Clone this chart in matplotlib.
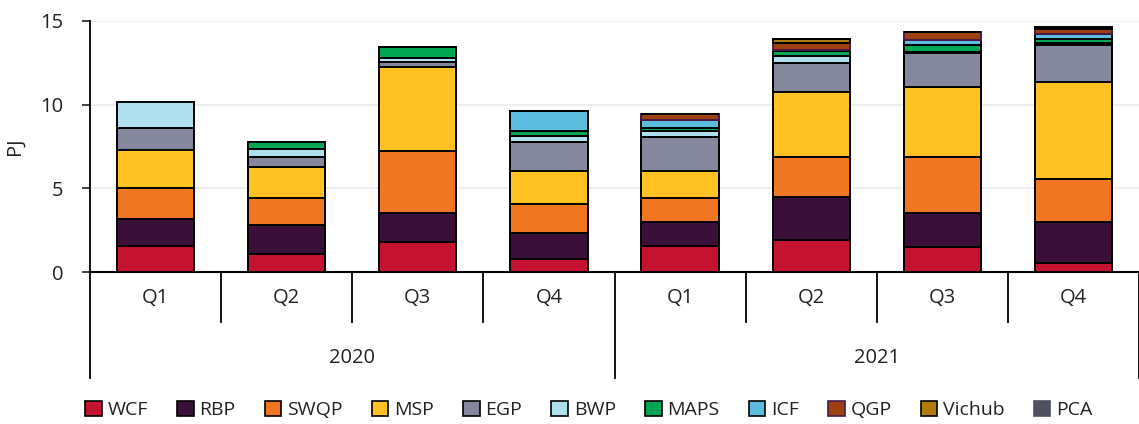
import matplotlib
matplotlib.use("Agg")
import matplotlib.pyplot as plt
from matplotlib.patches import Patch
import matplotlib.transforms as mtransforms

plt.rcParams['font.family'] = ['Open Sans', 'DejaVu Sans']

quarters = ["Q1", "Q2", "Q3", "Q4", "Q1", "Q2", "Q3", "Q4"]
years = ["2020", "2021"]

WCF    = [1.53, 1.06, 1.81, 0.76, 1.55, 1.91, 1.51, 0.54]
RBP    = [1.64, 1.73, 1.70, 1.57, 1.46, 2.59, 2.04, 2.47]
SWQP   = [1.85, 1.65, 3.72, 1.73, 1.40, 2.40, 3.31, 2.57]
MSP    = [2.27, 1.84, 5.04, 1.98, 1.65, 3.84, 4.22, 5.80]
EGP    = [1.30, 0.61, 0.25, 1.73, 2.03, 1.77, 2.01, 2.17]
BWP    = [1.57, 0.44, 0.29, 0.35, 0.35, 0.42, 0.05, 0.15]
MAPS   = [0.00, 0.42, 0.66, 0.33, 0.15, 0.28, 0.42, 0.23]
ICF    = [0.00, 0.00, 0.00, 1.17, 0.50, 0.05, 0.32, 0.28]
QGP    = [0.00, 0.00, 0.00, 0.03, 0.35, 0.40, 0.44, 0.30]
Vichub = [0.00, 0.00, 0.00, 0.00, 0.00, 0.26, 0.00, 0.00]
PCA    = [0.00, 0.00, 0.00, 0.00, 0.00, 0.00, 0.00, 0.12]

series = [
    ("WCF", WCF, "#C41230", "black"),
    ("RBP", RBP, "#3A1038", "black"),
    ("SWQP", SWQP, "#F07621", "black"),
    ("MSP", MSP, "#FFC222", "black"),
    ("EGP", EGP, "#85879C", "black"),
    ("BWP", BWP, "#B0E0EE", "black"),
    ("MAPS", MAPS, "#00A651", "black"),
    ("ICF", ICF, "#5BBCDD", "black"),
    ("QGP", QGP, "#9E4012", "#4A1A4A"),
    ("Vichub", Vichub, "#B07D0A", "black"),
    ("PCA", PCA, "#4F5160", "none"),
]

W, H = 1139, 424
fig = plt.figure(figsize=(W / 100, H / 100), dpi=100)
ax = fig.add_axes([90 / W, (H - 272) / H, (W - 90) / W, (272 - 21) / H])

x = list(range(len(quarters)))
bottom = [0.0] * len(quarters)
for name, vals, color, ec in series:
    ax.bar(x, vals, width=0.59, bottom=bottom, color=color,
           edgecolor="black" if ec == "none" else ec, linewidth=1.4, zorder=3)
    bottom = [b + v for b, v in zip(bottom, vals)]

TXT = "#222222"
ax.set_xlim(-0.5, len(quarters) - 0.5)
ax.set_ylim(0, 15)
ax.set_yticks([0, 5, 10, 15])
ax.tick_params(axis="y", labelsize=14.5, length=6, width=1.2, pad=13, colors=TXT)
ax.grid(axis="y", color="#EBEBEB", linewidth=1.2, zorder=0)
ax.set_axisbelow(True)
for s in ["top", "right"]:
    ax.spines[s].set_visible(False)
ax.spines["left"].set_linewidth(1.3)
ax.spines["bottom"].set_linewidth(1.5)
ax.set_xticks([])
ax.set_ylabel("PJ", fontsize=14.5, color=TXT, va="center")
ax.yaxis.set_label_coords(-75 / (W - 90), 0.5)

# multi-level category axis
ax_h_px = 272 - 21
trans = mtransforms.blended_transform_factory(ax.transData, ax.transAxes)
q_depth = -50 / ax_h_px
y_depth = -106 / ax_h_px
n_per_year = len(quarters) // len(years)
for i in range(len(quarters) + 1):
    edge = i - 0.5
    depth = y_depth if i % n_per_year == 0 else q_depth
    ax.plot([edge, edge], [0, depth], transform=trans, color="black",
            linewidth=1.3, clip_on=False)
for i, q in enumerate(quarters):
    ax.text(i, -26 / ax_h_px, q, transform=trans, ha="center", va="center",
            fontsize=14.5, color=TXT)
for j, yr in enumerate(years):
    cx = j * n_per_year + (n_per_year - 1) / 2
    ax.text(cx, -86 / ax_h_px, yr, transform=trans, ha="center", va="center",
            fontsize=14.5, color=TXT)

handles = [Patch(facecolor=c, edgecolor=("black" if e == "black" else (e if e != "none" else c)),
                 linewidth=1.2, label=n) for n, _, c, e in series]
fig.legend(handles=handles, loc="center", ncol=len(series),
           bbox_to_anchor=(589 / W, 1 - 410 / H), frameon=False,
           fontsize=14, handlelength=0.85, handleheight=0.85,
           handletextpad=0.3, columnspacing=1.5, labelcolor=TXT)

fig.savefig("out.png", dpi=100)
